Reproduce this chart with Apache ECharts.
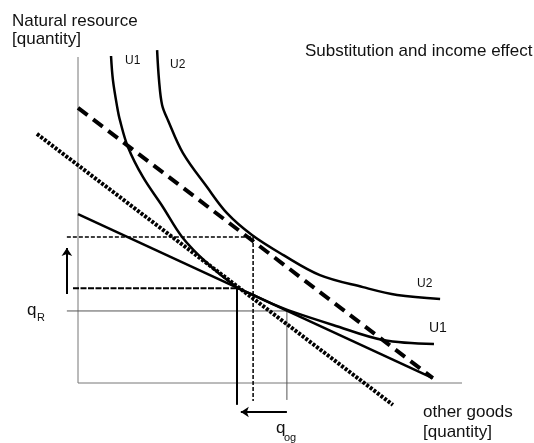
<!DOCTYPE html>
<html>
<head>
<meta charset="utf-8">
<script src="https://cdn.jsdelivr.net/npm/echarts@6/dist/echarts.min.js"></script>
<style>
  html, body { margin: 0; padding: 0; background: #fff; }
  #chart { width: 534px; height: 443px; }
</style>
</head>
<body>
<div id="chart"></div>
<script>
// indifference curves [other goods, natural resource]
const u1 = [[0.86, 10.03], [0.91, 9.29], [1.02, 8.47], [1.09, 8.07], [1.30, 7.24], [1.69, 6.32],
  [2.21, 5.40], [2.71, 4.48], [3.36, 3.68], [4.14, 2.94], [4.56, 2.70], [5.08, 2.42],
  [5.60, 2.18], [6.64, 1.78], [7.94, 1.32], [9.27, 1.20]];
const u2 = [[2.06, 10.21], [2.11, 9.29], [2.19, 8.53], [2.34, 8.07], [2.73, 7.06], [3.36, 6.01],
  [3.88, 5.21], [4.53, 4.54], [5.34, 3.93], [6.30, 3.31], [7.42, 2.94], [8.31, 2.70], [9.43, 2.58]];

// budget lines
const budgetOld = [[0, 5.18], [9.24, 0.15]];
const budgetNew = [[0, 8.44], [9.24, 0.15]];
const budgetComp = [[-1.07, 7.64], [8.20, -0.67]];

// axes of the diagram
const axisX = [[0, 0], [10, 0]];
const axisY = [[0, 0], [0, 10]];

// projection lines
const hNew = [[-0.29, 4.48], [4.56, 4.48]];
const vNew = [[4.56, 4.48], [4.56, -0.55]];
const hComp = [[-0.13, 2.91], [4.14, 2.91]];
const vComp = [[4.14, 2.91], [4.14, -0.67]];
const hOld = [[-0.29, 2.21], [5.52, 2.21]];
const vOld = [[5.44, 2.21], [5.44, -0.52]];

// arrows
const arrowUp = [[-0.29, 2.73], [-0.29, 4.14]];
const arrowLeft = [[5.44, -0.89], [4.24, -0.89]];

const chartInstance = echarts.init(document.getElementById('chart'));

function seg(data, width, type, color) {
    return {
        type: 'line',
        data: data,
        showSymbol: false,
        clip: false,
        silent: true,
        lineStyle: { color: color || '#000', width: width, type: type || 'solid' }
    };
}

function curve(data) {
    let s = seg(data, 2.5);
    s.smooth = 0.35;
    return s;
}

function arrow(pts) {
    return {
        type: 'lines',
        coordinateSystem: 'cartesian2d',
        silent: true,
        clip: false,
        symbol: ['none', 'arrow'],
        symbolSize: 8,
        lineStyle: { color: '#000', width: 2, opacity: 1 },
        data: [{ coords: pts }]
    };
}

const font = 'Liberation Sans, Arial, sans-serif';
function txt(x, y, s, size) {
    return {
        type: 'text', x: x, y: y, silent: true,
        style: { text: s, fill: '#111', font: size + 'px ' + font, verticalAlign: 'middle' }
    };
}

const hidden = {
    axisLine: { show: false }, axisTick: { show: false },
    axisLabel: { show: false }, splitLine: { show: false }
};

// 38.4 px per unit on x, 32.6 px per unit on y, origin at (78, 383)
let option = {
    animation: false,
    grid: { left: 30, top: 40.7, width: 432, height: 374.9 },
    xAxis: Object.assign({ type: 'value', min: -1.25, max: 10 }, hidden),
    yAxis: Object.assign({ type: 'value', min: -1, max: 10.5 }, hidden),
    graphic: [
        txt(12, 21, 'Natural resource', 17),
        txt(12, 39, '[quantity]', 17),
        txt(305, 51, 'Substitution and income effect', 17),
        txt(125, 61, 'U1', 12),
        txt(170, 65, 'U2', 12),
        txt(417, 284, 'U2', 12),
        txt(429, 328, 'U1', 14),
        txt(27, 310, 'q', 17),
        txt(37, 318, 'R', 11),
        txt(276, 428, 'q', 17),
        txt(284, 438, 'og', 11),
        txt(423, 412, 'other goods', 17),
        txt(423, 432, '[quantity]', 17)
    ],
    series: [
        seg(axisX, 1, 'solid', '#777'),
        seg(axisY, 1, 'solid', '#777'),
        seg(hOld, 1, 'solid', '#555'),
        seg(vOld, 1, 'solid', '#555'),
        seg(hNew, 1.5, [4, 2]),
        seg(vNew, 1.5, [4, 2]),
        seg(hComp, 2, [6, 1.5]),
        seg(vComp, 2),
        seg(budgetOld, 2.5),
        seg(budgetNew, 4, [12, 7]),
        seg(budgetComp, 4, [3, 1.5]),
        curve(u1),
        curve(u2),
        arrow(arrowUp),
        arrow(arrowLeft)
    ]
};

chartInstance.setOption(option);
</script>
</body>
</html>
